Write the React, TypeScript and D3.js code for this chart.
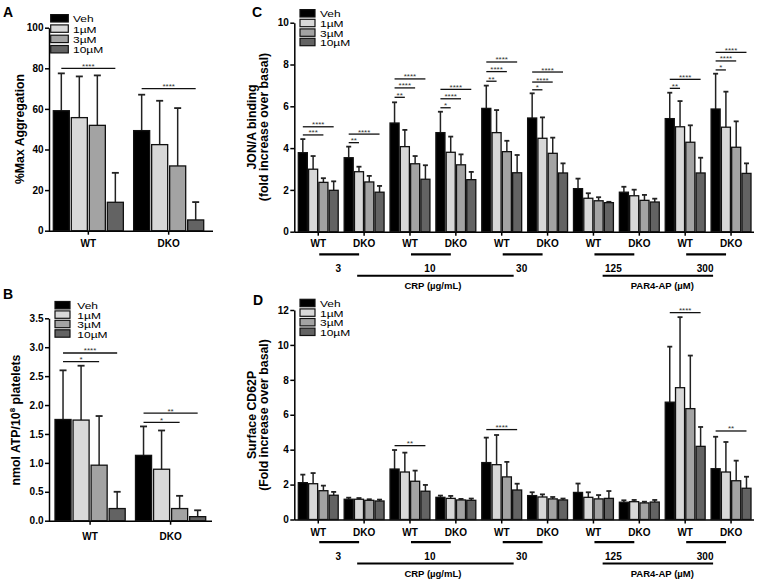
import React, { useEffect, useRef } from 'react';
import * as d3 from 'd3';

// treatments shown in every panel
const doses = ['Veh', '1µM', '3µM', '10µM'];
const doseFill = ['#000000', '#d8d8d8', '#a3a3a3', '#636363'];

// A - %Max aggregation
const genotypes = ['WT', 'DKO'];
const aggMean = [
  [59.1, 55.7, 51.9, 14.0],
  [49.3, 42.4, 31.9, 5.3],
];
const aggSd = [
  [18.4, 20.3, 24.6, 14.5],
  [17.7, 21.6, 28.5, 8.8],
];
const aggTicks = [0, 20, 40, 60, 80, 100];
// [group, dose index, level, stars]
const aggSig = [
  [0, 3, 80, '****'],
  [1, 3, 70, '****'],
];

// B - ATP release
const atpMean = [
  [1.75, 1.74, 0.96, 0.21],
  [1.13, 0.89, 0.21, 0.07],
];
const atpSd = [
  [0.85, 0.94, 0.85, 0.29],
  [0.5, 0.67, 0.22, 0.11],
];
const atpTicks = [0, 0.5, 1, 1.5, 2, 2.5, 3, 3.5];
const atpSig = [
  [0, 3, 2.9, '****'],
  [0, 2, 2.75, '*'],
  [1, 3, 1.86, '**'],
  [1, 2, 1.7, '*'],
];

// C and D share the same groups
const cdGroups = ['WT', 'DKO', 'WT', 'DKO', 'WT', 'DKO', 'WT', 'DKO', 'WT', 'DKO'];
const cdConc = ['3', '10', '30', '125', '300'];

// C - JON/A binding
const jonMean = [
  [3.78, 2.99, 2.36, 1.98],
  [3.54, 2.87, 2.38, 1.89],
  [5.2, 4.07, 3.25, 2.51],
  [4.74, 3.8, 3.2, 2.49],
  [5.9, 4.74, 3.83, 2.82],
  [5.44, 4.47, 3.75, 2.81],
  [2.06, 1.6, 1.48, 1.39],
  [1.89, 1.72, 1.5, 1.42],
  [5.41, 5.02, 4.28, 2.81],
  [5.87, 5.0, 4.04, 2.79],
];
const jonSd = [
  [0.65, 0.63, 0.2, 0.43],
  [0.53, 0.24, 0.29, 0.3],
  [0.99, 0.8, 0.37, 0.67],
  [1.0, 0.75, 0.5, 0.37],
  [1.09, 1.08, 0.52, 0.85],
  [1.18, 1.0, 0.75, 0.46],
  [0.48, 0.24, 0.17, 0.04],
  [0.26, 0.29, 0.26, 0.16],
  [1.24, 1.23, 0.81, 0.73],
  [1.69, 1.7, 1.24, 0.48],
];
const jonTicks = [0, 2, 4, 6, 8, 10];
const jonSig = [
  [0, 3, 5.02, '****'], [0, 2, 4.63, '***'],
  [1, 3, 4.67, '****'], [1, 1, 4.26, '**'],
  [2, 3, 7.31, '****'], [2, 2, 6.88, '****'], [2, 1, 6.43, '**'],
  [3, 3, 6.81, '****'], [3, 2, 6.36, '****'], [3, 1, 5.93, '*'],
  [4, 3, 8.12, '****'], [4, 2, 7.66, '****'], [4, 1, 7.2, '**'],
  [5, 3, 7.64, '****'], [5, 2, 7.16, '****'], [5, 1, 6.79, '*'],
  [8, 3, 7.29, '****'], [8, 1, 6.86, '**'],
  [9, 3, 8.58, '****'], [9, 2, 8.17, '****'], [9, 1, 7.74, '*'],
];

// D - surface CD62P
const cd62Mean = [
  [2.11, 2.05, 1.65, 1.39],
  [1.16, 1.16, 1.1, 1.06],
  [2.89, 2.72, 2.19, 1.62],
  [1.27, 1.21, 1.12, 1.1],
  [3.26, 3.14, 2.44, 1.69],
  [1.37, 1.29, 1.18, 1.12],
  [1.55, 1.27, 1.18, 1.21],
  [0.99, 1.02, 0.95, 1.0],
  [6.72, 7.55, 6.35, 4.19],
  [2.91, 2.72, 2.22, 1.79],
];
const cd62Sd = [
  [0.46, 0.61, 0.29, 0.19],
  [0.09, 0.07, 0.06, 0.08],
  [1.09, 1.11, 0.61, 0.36],
  [0.1, 0.14, 0.06, 0.1],
  [1.43, 1.7, 0.86, 0.36],
  [0.19, 0.15, 0.11, 0.08],
  [0.51, 0.29, 0.22, 0.42],
  [0.11, 0.1, 0.07, 0.12],
  [3.18, 4.04, 3.04, 1.11],
  [1.83, 1.72, 1.15, 0.66],
];
const cd62Ticks = [0, 2, 4, 6, 8, 10, 12];
const cd62Sig = [
  [2, 3, 4.23, '**'],
  [4, 3, 5.15, '****'],
  [8, 3, 11.85, '****'],
  [9, 3, 5.07, '**'],
];

const FONT = '"Liberation Sans", Arial, sans-serif';

const drawPanel = (svg: any, o: any) => {
  const x0 = d3.scaleBand<any>().domain(d3.range(o.means.length)).range(o.xr).paddingInner(o.gap).paddingOuter(0);
  const x1 = d3.scaleBand<string>().domain(doses).range([0, x0.bandwidth()]).paddingInner(o.barGap);
  const y = d3.scaleLinear().domain([0, o.ymax]).range(o.yr);
  const base = o.yr[0];
  const cx = (g: number, d: number) => (x0(g) as number) + (x1(doses[d]) as number) + x1.bandwidth() / 2;

  // ejes
  const gy = svg
    .append('g')
    .attr('transform', `translate(${o.axisX},0)`)
    .call(d3.axisLeft(y).tickValues(o.ticks).tickSize(4).tickSizeOuter(0).tickPadding(1.5).tickFormat(o.fmt));
  const gx = svg
    .append('g')
    .attr('transform', `translate(0,${base})`)
    .call(d3.axisBottom(x0).tickSize(4).tickSizeOuter(0).tickPadding(o.xPad).tickFormat((i: any) => o.groups[i]));
  gx.select('.domain').remove();
  svg.append('line')
    .attr('x1', o.axisX).attr('x2', o.axisEnd)
    .attr('y1', base + 0.5).attr('y2', base + 0.5)
    .attr('stroke', '#000').attr('stroke-width', 1.5);
  [gx, gy].forEach(g => {
    g.selectAll('line,path').attr('stroke', '#000').attr('stroke-width', 1.5);
    g.selectAll('text')
      .attr('fill', '#000')
      .style('font-family', FONT)
      .style('font-weight', 'bold')
      .style('font-size', '10px');
  });

  // barras + error
  o.means.forEach((row: number[], g: number) => {
    row.forEach((m: number, d: number) => {
      const c = cx(g, d);
      const top = y(m + o.sds[g][d]);
      svg.append('line').attr('x1', c).attr('x2', c).attr('y1', y(m)).attr('y2', top)
        .attr('stroke', '#222').attr('stroke-width', 1.5);
      svg.append('line').attr('x1', c - o.capW / 2).attr('x2', c + o.capW / 2).attr('y1', top).attr('y2', top)
        .attr('stroke', '#222').attr('stroke-width', 1.8);
      svg.append('rect')
        .attr('x', (x0(g) as number) + (x1(doses[d]) as number))
        .attr('y', y(m))
        .attr('width', x1.bandwidth())
        .attr('height', base - y(m))
        .attr('fill', doseFill[d])
        .attr('stroke', '#111')
        .attr('stroke-width', 1.3);
    });
  });

  // significancia
  o.sigs.forEach(([g, t, lvl, s]: any) => {
    const a = cx(g, 0);
    const b = cx(g, t);
    svg.append('line').attr('x1', a).attr('x2', b).attr('y1', y(lvl)).attr('y2', y(lvl))
      .attr('stroke', '#111').attr('stroke-width', 1.3);
    svg.append('text')
      .attr('x', (a + b) / 2).attr('y', y(lvl) + 0.5)
      .attr('text-anchor', 'middle')
      .style('font-family', FONT).style('font-size', '8px').attr('fill', '#333')
      .text(s);
  });

  return { x0, base };
};

// leyenda: texto comprimido en vertical como en la figura original
const drawLegend = (svg: any, x: number, rows: number[], boxW: number, textX: number) => {
  doses.forEach((d, i) => {
    svg.append('rect')
      .attr('x', x).attr('y', rows[i] - 3.7)
      .attr('width', boxW).attr('height', 7.4)
      .attr('fill', doseFill[i]).attr('stroke', '#111').attr('stroke-width', 1.2);
    svg.append('text')
      .attr('transform', `translate(${textX},${rows[i] + 4}) scale(1,0.8)`)
      .style('font-family', FONT).style('font-size', '12px')
      .text(d);
  });
};

const yLabel = (svg: any, x: number, yc: number, text: string) =>
  svg.append('text')
    .attr('transform', `translate(${x},${yc}) rotate(-90)`)
    .attr('text-anchor', 'middle')
    .style('font-family', FONT).style('font-weight', 'bold').style('font-size', '12.3px')
    .text(text);

const letter = (svg: any, x: number, y: number, t: string) =>
  svg.append('text').attr('x', x).attr('y', y)
    .style('font-family', FONT).style('font-weight', 'bold').style('font-size', '14px')
    .text(t);

// llaves de concentracion debajo de C y D
const drawConc = (svg: any, x0: any, base: number) => {
  const bw = x0.bandwidth();
  const mid = (g: number) => x0(g) + bw / 2;
  cdConc.forEach((c, k) => {
    svg.append('line')
      .attr('x1', mid(2 * k) + 1).attr('x2', mid(2 * k + 1) - 5)
      .attr('y1', base + 22.6).attr('y2', base + 22.6)
      .attr('stroke', '#000').attr('stroke-width', 2.2);
    svg.append('text')
      .attr('x', (mid(2 * k) + mid(2 * k + 1)) / 2 - 3).attr('y', base + 40.2)
      .attr('text-anchor', 'middle')
      .style('font-family', FONT).style('font-weight', 'bold').style('font-size', '10px')
      .text(c);
  });
  const longLine = (a: number, b: number) =>
    svg.append('line').attr('x1', a).attr('x2', b).attr('y1', base + 44).attr('y2', base + 44)
      .attr('stroke', '#000').attr('stroke-width', 2);
  longLine(x0(1) + 13, x0(4) + bw - 8);
  longLine(x0(6) + bw * 0.73, x0(9) + 2);
  const lab = (x: number, t: string) =>
    svg.append('text').attr('x', x).attr('y', base + 57.7).attr('text-anchor', 'middle')
      .style('font-family', FONT).style('font-weight', 'bold').style('font-size', '9.5px').text(t);
  lab((mid(2) + mid(3)) / 2, 'CRP (µg/mL)');
  lab(x0(7) + bw + 3, 'PAR4-AP (µM)');
};

const App = () => {
  const ref = useRef<SVGSVGElement>(null);

  useEffect(() => {
    const svg = d3.select(ref.current);
    svg.selectAll('*').remove();

    // A
    drawPanel(svg, {
      groups: genotypes, means: aggMean, sds: aggSd, sigs: aggSig,
      xr: [53.3, 203.7], gap: 0.128, barGap: 0.11,
      ymax: 100, yr: [230.7, 27.7], ticks: aggTicks, fmt: d3.format('d'),
      axisX: 49, axisEnd: 213, xPad: 5, capW: 7,
    });
    letter(svg, 3, 17, 'A');
    drawLegend(svg, 50.7, [18.3, 28.6, 38.9, 49.2], 17.6, 73);
    yLabel(svg, 23.5, 129, '%Max Aggregation');

    // B
    drawPanel(svg, {
      groups: genotypes, means: atpMean, sds: atpSd, sigs: atpSig,
      xr: [55, 205.7], gap: 0.128, barGap: 0.11,
      ymax: 3.5, yr: [520.7, 318.3], ticks: atpTicks, fmt: d3.format('.1f'),
      axisX: 49, axisEnd: 212, xPad: 8.4, capW: 7,
    });
    letter(svg, 3, 298.5, 'B');
    drawLegend(svg, 55, [305.2, 314.6, 324, 333.5], 15, 77.3);
    const lb = svg.append('text')
      .attr('transform', 'translate(19.5,420) rotate(-90)')
      .attr('text-anchor', 'middle')
      .style('font-family', FONT).style('font-weight', 'bold').style('font-size', '12.3px');
    lb.append('tspan').text('nmol ATP/10');
    lb.append('tspan').attr('dy', -4.5).style('font-size', '8px').text('8');
    lb.append('tspan').attr('dy', 4.5).text(' platelets');

    // C
    const c = drawPanel(svg, {
      groups: cdGroups, means: jonMean, sds: jonSd, sigs: jonSig,
      xr: [298.3, 751], gap: 0.13, barGap: 0.12,
      ymax: 10, yr: [231.7, 22.7], ticks: jonTicks, fmt: d3.format('d'),
      axisX: 294.3, axisEnd: 754, xPad: 4.7, capW: 5,
    });
    drawConc(svg, c.x0, c.base);
    letter(svg, 252, 17, 'C');
    drawLegend(svg, 300, [13.3, 23, 32.6, 42], 15, 320);
    yLabel(svg, 255.5, 127, 'JON/A binding');
    yLabel(svg, 268, 127, '(fold increase over basal)');

    // D
    const dd = drawPanel(svg, {
      groups: cdGroups, means: cd62Mean, sds: cd62Sd, sigs: cd62Sig,
      xr: [298.3, 751], gap: 0.13, barGap: 0.12,
      ymax: 12, yr: [519.5, 310], ticks: cd62Ticks, fmt: d3.format('d'),
      axisX: 294.3, axisEnd: 754, xPad: 5.2, capW: 5,
    });
    drawConc(svg, dd.x0, dd.base);
    letter(svg, 253, 305, 'D');
    drawLegend(svg, 300, [303, 312.6, 322.2, 331.8], 15, 320);
    yLabel(svg, 255.5, 415, 'Surface CD62P');
    yLabel(svg, 268, 415, '(Fold increase over basal)');
  }, []);

  return (
    <svg
      ref={ref}
      width={758}
      height={582}
      style={{ position: 'absolute', left: 0, top: 0, background: '#fff' }}
    />
  );
};

export default App;
